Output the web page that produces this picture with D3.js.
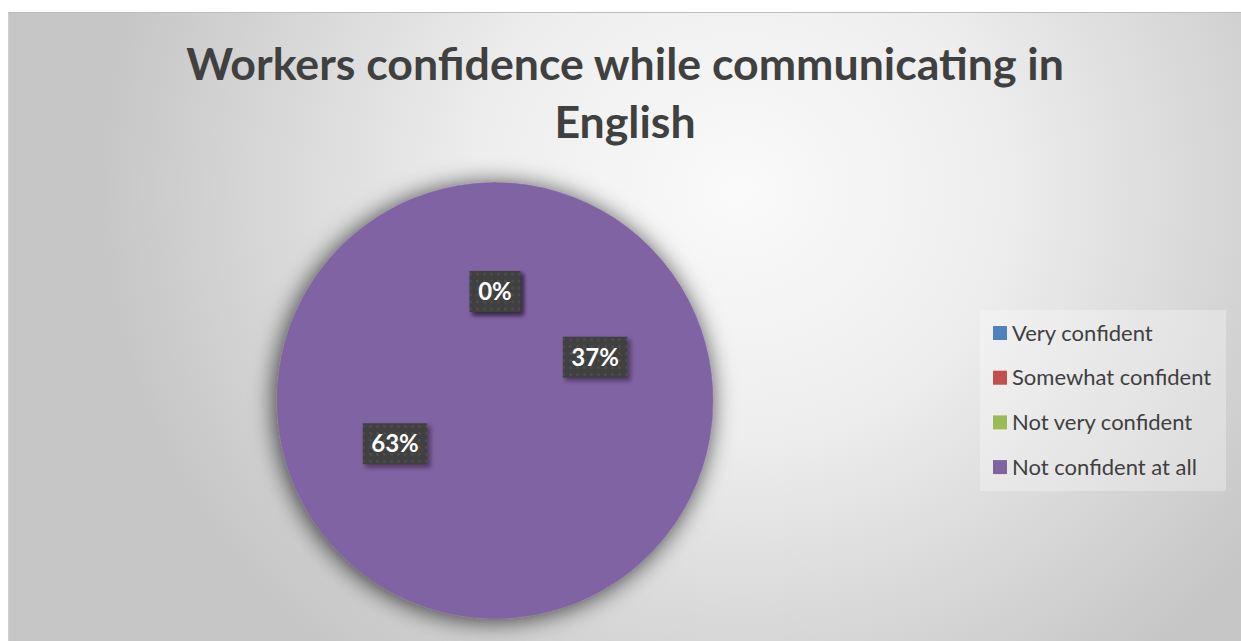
<!DOCTYPE html>
<html>
<head>
<meta charset="utf-8">
<script src="https://cdn.jsdelivr.net/npm/d3@7"></script>
<style>
  html, body { margin: 0; padding: 0; background: #ffffff; }
  svg { display: block; }
</style>
</head>
<body>
<svg id="chart" width="1241" height="641"></svg>
<script>
// Survey answers, in the order the slices run clockwise from 12 o'clock
const categories = ["Very confident", "Somewhat confident", "Not very confident", "Not confident at all"];
const shares = [0, 37, 63, 0];
const legendColors = ["#4F81BD", "#C0504D", "#9BBB59", "#8064A2"];
const titleLines = ["Workers confidence while communicating in", "English"];

// every slice is painted with the series colour
const sliceFill = "#8064A2";

const W = 1241, H = 641;
const svg = d3.select("#chart");
const defs = svg.append("defs");

// soft radial backdrop of the chart area
const bg = defs.append("radialGradient")
  .attr("id", "bgGrad")
  .attr("gradientUnits", "userSpaceOnUse")
  .attr("cx", 740).attr("cy", 190).attr("r", 640)
  .attr("gradientTransform", "translate(740,190) scale(1,0.94) translate(-740,-190)");
bg.append("stop").attr("offset", 0).attr("stop-color", "#fafafa");
bg.append("stop").attr("offset", 0.4).attr("stop-color", "#eeeeee");
bg.append("stop").attr("offset", 1).attr("stop-color", "#c6c6c6");

// shadow under the pie
const pieShadow = defs.append("filter").attr("id", "pieShadow")
  .attr("x", "-25%").attr("y", "-25%").attr("width", "150%").attr("height", "150%");
pieShadow.append("feDropShadow")
  .attr("dx", -2).attr("dy", 2).attr("stdDeviation", 12)
  .attr("flood-color", "#000").attr("flood-opacity", 0.75);

// shadow for the data label boxes
const boxShadow = defs.append("filter").attr("id", "boxShadow")
  .attr("x", "-30%").attr("y", "-30%").attr("width", "160%").attr("height", "160%");
boxShadow.append("feDropShadow")
  .attr("dx", 3).attr("dy", 3).attr("stdDeviation", 2)
  .attr("flood-color", "#1a0f2a").attr("flood-opacity", 0.55);

// dotted dark fill for the label boxes
const dots = defs.append("pattern").attr("id", "dots")
  .attr("patternUnits", "userSpaceOnUse").attr("width", 7).attr("height", 7);
dots.append("rect").attr("width", 7).attr("height", 7).attr("fill", "#3f3f3f");
dots.append("circle").attr("cx", 3.5).attr("cy", 3.5).attr("r", 1.3).attr("fill", "#505050");

// chart area
svg.append("rect")
  .attr("x", 8).attr("y", 12).attr("width", W - 8).attr("height", H - 12)
  .attr("fill", "url(#bgGrad)");
svg.append("line")
  .attr("x1", 8).attr("x2", W).attr("y1", 12.5).attr("y2", 12.5)
  .attr("stroke", "#bdbdbd").attr("stroke-width", 1);
svg.append("line")
  .attr("x1", 8.5).attr("x2", 8.5).attr("y1", 12).attr("y2", H)
  .attr("stroke", "#cfcfcf").attr("stroke-width", 1);

// title, sized so the first line spans the heading width
const title = svg.append("g")
  .attr("font-family", "Lato, 'Open Sans', sans-serif")
  .attr("font-weight", "bold")
  .attr("fill", "#404040")
  .attr("text-anchor", "middle");
const probe = title.append("text").attr("font-size", 40).text(titleLines[0]);
const titleSize = 40 * 878 / probe.node().getComputedTextLength();
probe.remove();
title.selectAll("text").data(titleLines).join("text")
  .attr("x", 625)
  .attr("y", (d, i) => 80 + i * 58)
  .attr("font-size", titleSize)
  .text(d => d);

// pie
const cx = 495, cy = 400.5, radius = 218;
const pie = d3.pie().sort(null).value(d => d.value);
const arcs = pie(categories.map((c, i) => ({ name: c, value: shares[i] })));
const arc = d3.arc().innerRadius(0).outerRadius(radius);
const labelArc = d3.arc().innerRadius(0).outerRadius(radius);

const pieG = svg.append("g").attr("transform", `translate(${cx},${cy})`);
pieG.append("g").attr("filter", "url(#pieShadow)")
  .selectAll("path").data(arcs).join("path")
  .attr("d", arc)
  .attr("fill", sliceFill)
  .attr("stroke", sliceFill)
  .attr("stroke-width", 0.5);

// data labels in dark boxes at each slice's centroid
const fmt = d3.format(".0%");
const labels = pieG.append("g")
  .selectAll("g").data(arcs).join("g")
  .attr("transform", d => `translate(${labelArc.centroid(d)})`);
labels.each(function (d) {
  const g = d3.select(this);
  const t = g.append("text")
    .attr("text-anchor", "middle")
    .attr("y", 8.5)
    .attr("font-family", "Lato, 'Open Sans', sans-serif")
    .attr("font-weight", "bold")
    .attr("font-size", 24)
    .attr("fill", "#ffffff")
    .text(fmt(d.data.value / 100));
  const w = t.node().getComputedTextLength() + 17;
  g.insert("rect", "text")
    .attr("x", -w / 2).attr("y", -20.5)
    .attr("width", w).attr("height", 41)
    .attr("fill", "url(#dots)")
    .attr("filter", "url(#boxShadow)");
});

// legend
const legend = svg.append("g");
legend.append("rect")
  .attr("x", 980).attr("y", 310).attr("width", 246).attr("height", 181)
  .attr("fill", "#ffffff").attr("fill-opacity", 0.3);
const rows = legend.selectAll("g.row").data(categories).join("g")
  .attr("class", "row")
  .attr("transform", (d, i) => `translate(993,${333 + i * 44.7})`);
rows.append("rect")
  .attr("x", 0).attr("y", -7).attr("width", 14).attr("height", 14)
  .attr("fill", (d, i) => legendColors[i]);
rows.append("text")
  .attr("x", 19).attr("y", 7.5)
  .attr("font-family", "Lato, 'Open Sans', sans-serif")
  .attr("font-size", 22)
  .attr("fill", "#404040")
  .text(d => d);
</script>
</body>
</html>
